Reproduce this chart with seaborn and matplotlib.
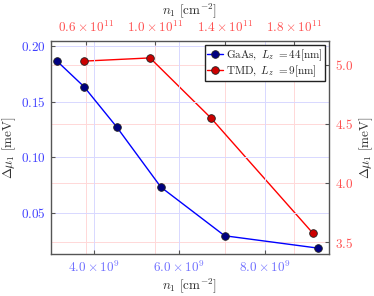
import numpy as np
import pandas as pd
import matplotlib
matplotlib.use('Agg')
import matplotlib.pyplot as plt
import matplotlib.ticker as mticker
import seaborn as sns

# GaAs series (bottom / left axes)
gaas_n = [3.13e9, 3.77e9, 4.54e9, 5.57e9, 7.06e9, 9.24e9]
gaas_dmu = [0.1868, 0.1635, 0.127, 0.0731, 0.0294, 0.0183]

# TMD series (top / right axes)
tmd_n = [0.59e11, 0.97e11, 1.32e11, 1.907e11]
tmd_dmu = [5.03, 5.057, 4.55, 3.576]

bottom_ticks = [4.0e9, 6.0e9, 8.0e9]
left_ticks = [0.05, 0.10, 0.15, 0.20]
top_ticks = [0.6e11, 1.0e11, 1.4e11, 1.8e11]
right_ticks = [3.5, 4.0, 4.5, 5.0]

sns.set_style('ticks')
plt.rcParams['font.family'] = ['DejaVu Serif']
plt.rcParams['mathtext.fontset'] = 'cm'
plt.rcParams['font.size'] = 10

df_gaas = pd.DataFrame({'n': gaas_n, 'dmu': gaas_dmu})
df_tmd = pd.DataFrame({'n': tmd_n, 'dmu': tmd_dmu})

fig = plt.figure(figsize=(3.74, 2.96), dpi=100)
rect = [51 / 374, 42 / 296, 278 / 374, 213 / 296]
ax2 = fig.add_axes(rect, label='tmd')
ax = fig.add_axes(rect, label='gaas')
ax.set_zorder(2)
ax.patch.set_visible(False)
ax2.set_zorder(1)

blue_tl = '#4040ff'
red_tl = '#ff5050'

sns.lineplot(data=df_gaas, x='n', y='dmu', color='#0000ff', lw=1, marker='o',
             markersize=5.5, markerfacecolor='#000080', markeredgecolor='#202020',
             markeredgewidth=0.6, label=r'$\mathrm{GaAs},\ L_z\ {=}44[\mathrm{nm}]$', ax=ax, legend=False)
sns.lineplot(data=df_tmd, x='n', y='dmu', color='#ff0000', lw=1, marker='o',
             markersize=5.5, markerfacecolor='#cc0000', markeredgecolor='#202020',
             markeredgewidth=0.6, label=r'$\mathrm{TMD},\ L_z\ {=}9[\mathrm{nm}]$', ax=ax2, legend=False)

ax.set_xlim(3.0e9, 9.5e9)
ax.set_ylim(0.013, 0.2045)
ax2.set_xlim(0.4e11, 2.0e11)
ax2.set_ylim(3.4, 5.2)

ax.xaxis.set_major_locator(mticker.FixedLocator(bottom_ticks))
ax.xaxis.set_major_formatter(mticker.FuncFormatter(lambda v, p: r'$%.1f \times 10^{9}$' % (v / 1e9)))
ax.yaxis.set_major_locator(mticker.FixedLocator(left_ticks))
ax.yaxis.set_major_formatter(mticker.FuncFormatter(lambda v, p: r'$%.2f$' % v))
ax2.xaxis.set_major_locator(mticker.FixedLocator(top_ticks))
ax2.xaxis.set_major_formatter(mticker.FuncFormatter(lambda v, p: r'$%.1f \times 10^{11}$' % (v / 1e11)))
ax2.yaxis.set_major_locator(mticker.FixedLocator(right_ticks))
ax2.yaxis.set_major_formatter(mticker.FuncFormatter(lambda v, p: r'$%.1f$' % v))

ax2.xaxis.tick_top()
ax2.xaxis.set_label_position('top')
ax2.yaxis.tick_right()
ax2.yaxis.set_label_position('right')

ax.grid(True, color='#d8d8ff', lw=0.7)
ax2.grid(True, color='#ffd8d8', lw=0.7)

ax.tick_params(axis='x', colors='#555555', labelcolor='#7070ff', direction='in', length=3, labelsize=9.5, pad=4)
ax.tick_params(axis='y', colors='#555555', labelcolor=blue_tl, direction='in', length=3, labelsize=9.5, pad=4)
ax2.tick_params(axis='x', colors='#555555', labelcolor=red_tl, direction='in', length=3, labelsize=9.5, pad=4)
ax2.tick_params(axis='y', colors='#555555', labelcolor=red_tl, direction='in', length=3, labelsize=9.5, pad=4)

for sp in ax.spines.values():
    sp.set_visible(True)
    sp.set_color('#555555')
    sp.set_linewidth(1.0)
for sp in ax2.spines.values():
    sp.set_visible(False)

lbl_x = r'$n_1\ [\mathrm{cm}^{-2}]$'
lbl_y = r'$\Delta\mu_1\ [\mathrm{meV}]$'
ax.set_xlabel(lbl_x, color='#333333', labelpad=1, fontsize=9.5)
ax.set_ylabel(lbl_y, color='#333333', labelpad=2, fontsize=9.5)
ax2.set_xlabel(lbl_x, color='#333333', labelpad=4, fontsize=9.5)
ax2.set_ylabel(lbl_y, color='#333333', labelpad=3, fontsize=9.5)

h1, l1 = ax.get_legend_handles_labels()
h2, l2 = ax2.get_legend_handles_labels()
leg = ax.legend(h1 + h2, l1 + l2, loc='upper right', fontsize=8, frameon=True,
                fancybox=False, edgecolor='#222222', framealpha=1,
                handlelength=1.4, handletextpad=0.3, borderpad=0.2,
                labelspacing=0.05, borderaxespad=0.4)
leg.get_frame().set_linewidth(1.0)

fig.savefig('out.png', dpi=100)
